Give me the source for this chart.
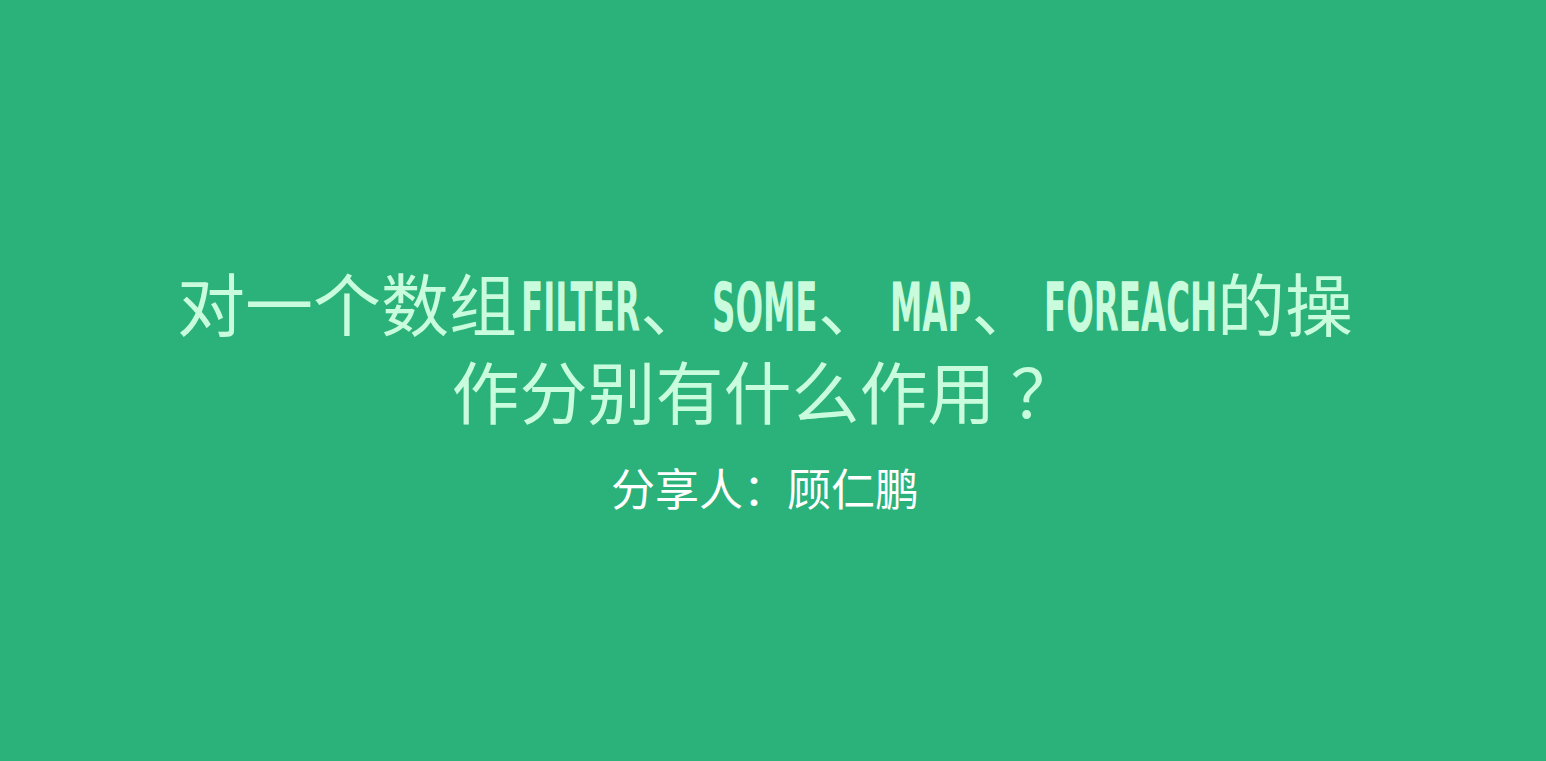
<!DOCTYPE html>
<html>
<head>
<meta charset="utf-8">
<script src="https://cdn.jsdelivr.net/npm/chart.js@4.4.0/dist/chart.umd.min.js"></script>
<style>
  html, body { margin: 0; padding: 0; }
  body {
    width: 1546px; height: 761px; overflow: hidden;
    background: #2bb17a;
    font-family: "Noto Sans CJK SC", "Noto Sans", sans-serif;
  }
  .slide { position: absolute; left: 0; top: 0; width: 1530px; height: 761px; text-align: center; }
  h1 {
    position: absolute; left: 0; right: 0; top: 261px; margin: 0;
    font-size: 68px; line-height: 82px; font-weight: 400; color: #c8fcdc;
  }
  .line1 { word-spacing: -11px; }
  .latin {
    display: inline-block; transform-origin: left center;
    font-family: "DejaVu Sans", sans-serif;
    font-weight: 700; text-transform: uppercase; font-size: 67px;
  }
  .sub {
    position: absolute; left: 0; right: 0; top: 463px; margin: 0;
    font-size: 44px; line-height: 48px; color: #ffffff;
  }
</style>
</head>
<body>
<div class="slide">
  <h1 id="title"></h1>
  <p class="sub" id="sub"></p>
</div>
<script>
// slide text, kept as plain lists
const titleLine1 = ['对一个数组 ', ['filter'], '、 ', ['some'], '、 ', ['map'], '、 ', ['forEach'], '的操'];
const titleLine2 = '作分别有什么作用 ？';
const subtitle = '分享人：顾仁鹏';

const title = document.getElementById('title');
const line1 = document.createElement('span');
line1.className = 'line1';
titleLine1.forEach((part) => {
  if (Array.isArray(part)) {
    const s = document.createElement('span');
    s.className = 'latin';
    s.textContent = part[0];
    line1.appendChild(s);
  } else {
    line1.appendChild(document.createTextNode(part));
  }
});
title.appendChild(line1);
title.appendChild(document.createElement('br'));
title.appendChild(document.createTextNode(titleLine2));
document.getElementById('sub').textContent = subtitle;

// squeeze the latin words to a gothic-like condensed width
const squeeze = 0.485;
document.querySelectorAll('.latin').forEach((el) => {
  const w = el.getBoundingClientRect().width;
  el.style.transform = `scaleX(${squeeze})`;
  el.style.marginRight = `${-(1 - squeeze) * w}px`;
});
</script>
</body>
</html>
